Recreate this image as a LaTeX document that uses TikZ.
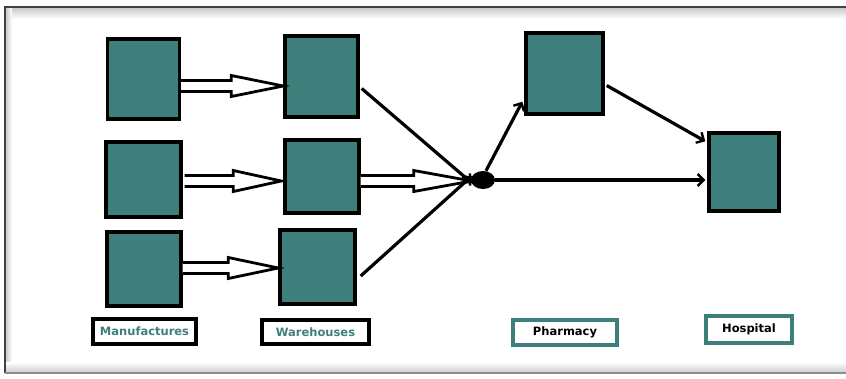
\documentclass[tikz,border=0pt]{standalone}
\usepackage{fontspec}
\setmainfont{Liberation Sans}
\newfontfamily\lblfont{DejaVu Sans}
\usetikzlibrary{arrows.meta,calc,shapes.geometric}
\definecolor{tealbox}{RGB}{62,126,123}
\tikzset{
  box/.style={draw=black, line width=3.4pt, fill=tealbox, inner sep=0pt, minimum width=#1},
  lbl/.style={draw=black, line width=3.2pt, fill=white, inner sep=0pt, font=\lblfont\bfseries\fontsize{11.5}{13}\selectfont},
  lblteal/.style={lbl, draw=tealbox},
  hol/.style={draw=black, line width=2.8pt, fill=white, line join=miter},
  arr/.style={line width=3.2pt, -{Straight Barb[length=6pt,width=12pt,line width=2.4pt]}},
}
\newcommand\hollowarr[3]{%
  \draw[hol] let \p1=(#1), \p2=(#2) in
    (\x1,\y1+5.5pt) -- (\x2-#3,\y1+5.5pt) -- (\x2-#3,\y1+10.5pt) -- (\x2,\y1)
    -- (\x2-#3,\y1-10.5pt) -- (\x2-#3,\y1-5.5pt) -- (\x1,\y1-5.5pt);}
\begin{document}
\begin{tikzpicture}[x=1pt,y=-1pt]
\useasboundingbox (0,0) rectangle (846,378);
\fill[white] (0,0) rectangle (846,378);
% frame with shadow
\shade[top color=gray!45, bottom color=white] (5,7) rectangle (846,19);
\shade[left color=gray!45, right color=white] (5,7) rectangle (12,373);
\shade[top color=white, bottom color=gray!40] (5,362) rectangle (846,373);
\draw[line width=1.6pt, black!75] (846,7) -- (5,7) -- (5,373);
\draw[line width=1.2pt, black!45] (5,373) -- (846,373);
% boxes
\node[box=72pt, minimum height=80pt] (m1) at (143.5,79) {};
\node[box=75pt, minimum height=75pt] (m2) at (143.5,179.5) {};
\node[box=74pt, minimum height=74pt] (m3) at (144,269) {};
\node[box=73pt, minimum height=81pt] (w1) at (321.5,76.5) {};
\node[box=74pt, minimum height=73pt] (w2) at (322,176.5) {};
\node[box=75pt, minimum height=74pt] (w3) at (317.5,267) {};
\node[box=77pt, minimum height=81pt] (ph) at (564.5,73.5) {};
\node[box=70pt, minimum height=78pt] (ho) at (744,172) {};
\node[fill=black, ellipse, minimum width=24pt, minimum height=18pt, inner sep=0pt] (dot) at (483,180) {};
% labels
\node[lbl, minimum width=103pt, minimum height=25pt, text=tealbox] (lm) at (144.5,331.5) {Manufactures};
\node[lbl, minimum width=107pt, minimum height=24pt, text=tealbox] (lw) at (315.5,332) {Warehouses};
\node[lblteal, minimum width=104pt, minimum height=25pt] (lp) at (565,332.5) {Pharmacy};
\node[lblteal, minimum width=86pt, minimum height=27pt] (lh) at (749,329.5) {Hospital};
% hollow arrows
\hollowarr{[yshift=-7pt]m1.east}{w1.west}{52pt}
\hollowarr{[yshift=-1.5pt,xshift=2pt]m2.east}{[xshift=-2pt]w2.west}{48pt}
\hollowarr{[yshift=1pt]m3.east}{w3.west}{50pt}
\hollowarr{[yshift=-4.5pt]w2.east}{[xshift=1pt]dot.west}{58pt}
% single arrows
\draw[arr] ([xshift=2pt,yshift=-12pt]w1.east) -- ([xshift=1pt,yshift=-3pt]dot.west);
\draw[arr] ([xshift=4pt,yshift=-9pt]w3.east) -- ([xshift=1pt,yshift=4pt]dot.west);
\draw[arr] ([xshift=3pt]dot.north) -- ([xshift=-2pt,yshift=14pt]ph.south west);
\draw[arr] (dot.east) -- ([xshift=-2pt,yshift=-8pt]ho.west);
\draw[arr] ([xshift=2pt,yshift=-12pt]ph.east) -- ([xshift=-2pt,yshift=-10pt]ho.north west);
\end{tikzpicture}
\end{document}
